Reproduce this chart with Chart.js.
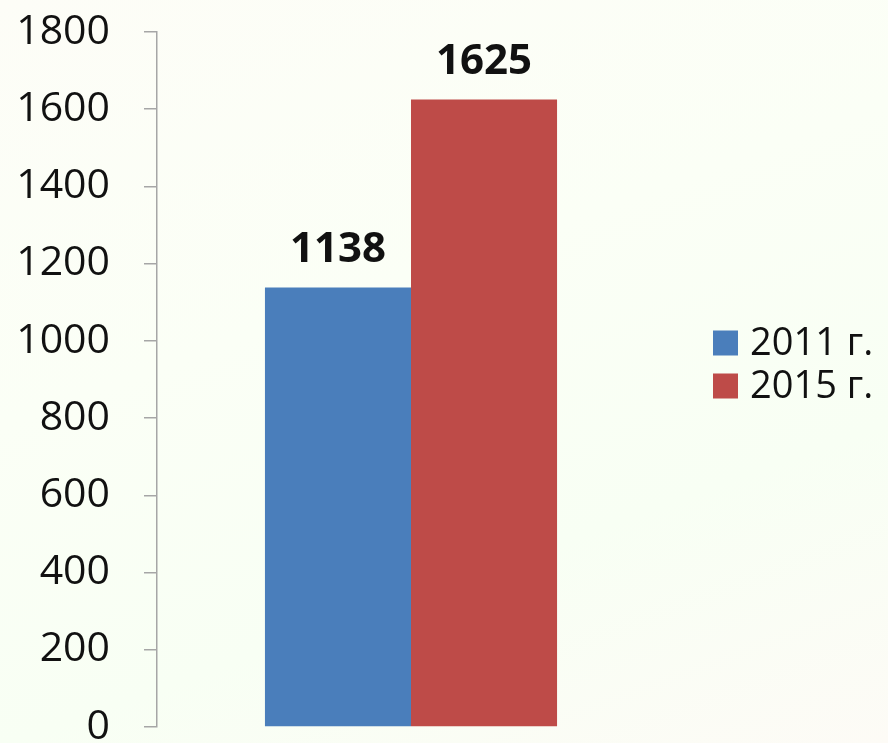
<!DOCTYPE html>
<html>
<head>
<meta charset="utf-8">
<script src="https://cdn.jsdelivr.net/npm/chart.js@4"></script>
<style>
html,body{margin:0;padding:0;}
body{width:888px;height:743px;overflow:hidden;
background:linear-gradient(160deg,#fdfdf7 0%,#fbfff6 40%,#f8fff4 70%,#fdfbf6 100%);}
#wrap{position:relative;width:888px;height:743px;}
</style>
</head>
<body>
<div id="wrap"><canvas id="c" width="888" height="743"></canvas></div>
<script>
// данные
const categories = [''];
const seriesNames = ['2011 г.', '2015 г.'];
const values2011 = [1138];
const values2015 = [1625];
const colors = ['#4a7ebb', '#be4b48'];
const yMin = 0, yMax = 1800, yStep = 200;

// подписи над столбцами
const barLabels = {
  id: 'barLabels',
  afterDatasetsDraw(chart){
    const ctx = chart.ctx;
    ctx.save();
    ctx.font = 'bold 42px "Open Sans"';
    ctx.fillStyle = '#111';
    ctx.textAlign = 'center';
    ctx.textBaseline = 'alphabetic';
    chart.data.datasets.forEach((ds, i)=>{
      chart.getDatasetMeta(i).data.forEach((bar, j)=>{
        ctx.fillText(String(ds.data[j]), bar.x, bar.y - 26);
      });
    });
    ctx.restore();
  }
};

// легенда справа
const sideLegend = {
  id: 'sideLegend',
  afterDraw(chart){
    const ctx = chart.ctx;
    ctx.save();
    ctx.font = '38px "Open Sans"';
    ctx.textBaseline = 'middle';
    ctx.textAlign = 'left';
    chart.data.datasets.forEach((ds, i)=>{
      const cy = 343 + i*43;
      ctx.fillStyle = ds.backgroundColor;
      ctx.fillRect(713, cy - 12.5, 25, 25);
      ctx.fillStyle = '#111';
      ctx.fillText(ds.label, 750, cy + 1);
    });
    ctx.restore();
  }
};

new Chart(document.getElementById('c').getContext('2d'), {
  type: 'bar',
  data: {
    labels: categories,
    datasets: [
      { label: seriesNames[0], data: values2011, backgroundColor: colors[0] },
      { label: seriesNames[1], data: values2015, backgroundColor: colors[1] }
    ]
  },
  options: {
    responsive: false,
    animation: false,
    layout: { padding: { top: 32, right: 223, bottom: 16, left: 0 } },
    datasets: { bar: { categoryPercentage: 0.575, barPercentage: 1 } },
    plugins: { legend: { display: false }, tooltip: { enabled: false } },
    scales: {
      x: { display: false },
      y: {
        min: yMin, max: yMax,
        afterFit(scale){ scale.width = 157; scale.paddingTop = 0; scale.paddingBottom = 0; },
        border: { display: true, color: '#a6a6a6', width: 1.5 },
        grid: { drawOnChartArea: false, drawTicks: true, tickLength: 13, color: '#a6a6a6', lineWidth: 1.5 },
        ticks: { stepSize: yStep, padding: 34, color: '#111',
          callback: v => String(v),
          font: { family: 'Open Sans', size: 41 } }
      }
    }
  },
  plugins: [barLabels, sideLegend]
});
</script>
</body>
</html>
